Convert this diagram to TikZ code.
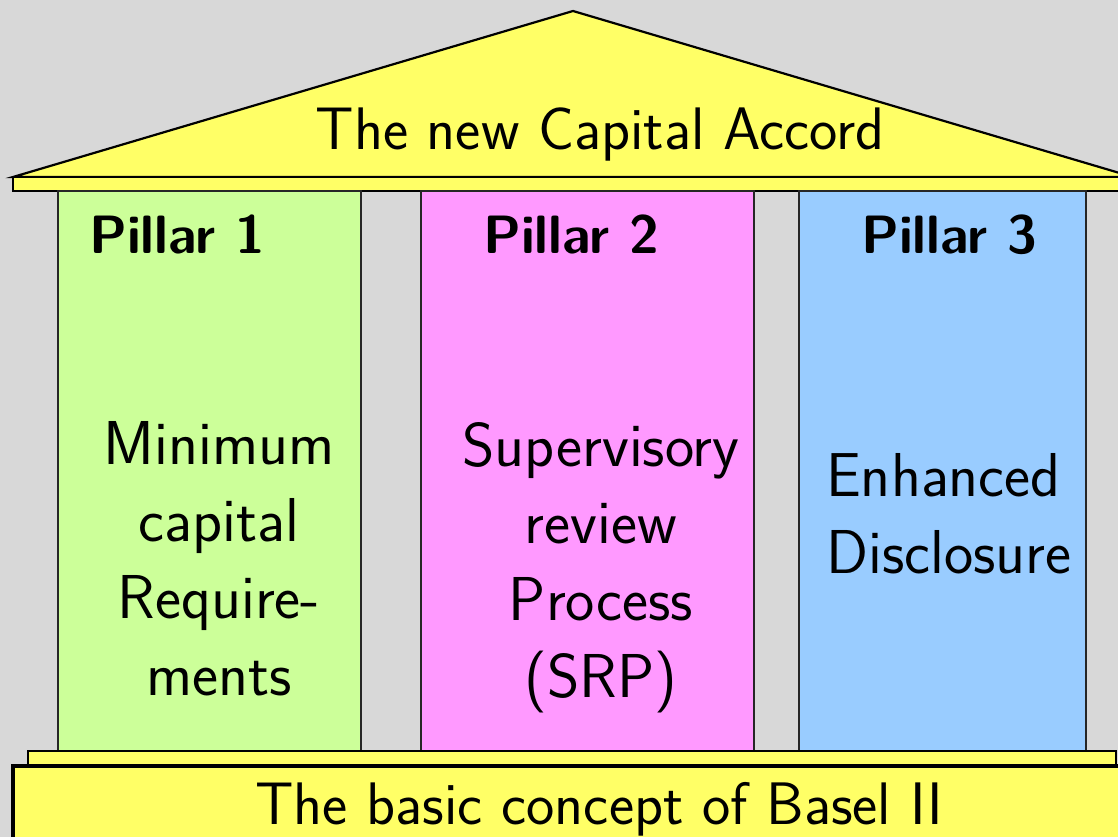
\documentclass[tikz,border=0pt]{standalone}
\usepackage{tikz}
\begin{document}
\begin{tikzpicture}[x=1pt,y=-1pt,
  part/.style={draw=black,line width=2.2pt,fill=accordyellow},
  pillar/.style={draw=black!85,line width=1.6pt},
  bigtext/.style={font=\sffamily\fontsize{60}{77}\selectfont,inner sep=0pt},
  bodytext/.style={font=\sffamily\fontsize{62}{77}\selectfont,inner sep=0pt},
  headtext/.style={font=\sffamily\bfseries\fontsize{54}{60}\selectfont,inner sep=0pt}]
\definecolor{accordyellow}{HTML}{FFFF66}
\definecolor{bggray}{HTML}{D8D8D8}
\definecolor{pillargreen}{HTML}{CCFF99}
\definecolor{pillarpink}{HTML}{FF99FF}
\definecolor{pillarblue}{HTML}{99CCFF}
\useasboundingbox (0,0) rectangle (1118,837);
\clip (0,0) rectangle (1118,837);
\fill[bggray] (0,0) rectangle (1118,837);
% roof and architrave
\draw[part,line join=miter] (13,177) -- (573,11) -- (1133,177) -- cycle;
\draw[part] (13,177) rectangle (1140,191);
% the three pillars
\draw[pillar,fill=pillargreen] (58,191) rectangle (361,751);
\draw[pillar,fill=pillarpink] (421,191) rectangle (754,751);
\draw[pillar,fill=pillarblue] (799,191) rectangle (1086,751);
% stylobate
\draw[part,line width=2.8pt] (28,751) rectangle (1116,766);
\draw[part,line width=3.2pt] (13,766) rectangle (1140,860);
% labels (multi-line nodes are anchored at the baseline of their last line)
\node[bigtext,anchor=base] (title) at (600,150) {The new Capital Accord};
\node[headtext,anchor=base] (p1) at (177,253) {Pillar 1};
\node[headtext,anchor=base] (p2) at (571,253) {Pillar 2};
\node[headtext,anchor=base] (p3) at (949,253) {Pillar 3};
\node[bodytext,anchor=base,align=center] (t1) at (219,695) {Minimum\\capital\\Require-\\ments};
\node[bodytext,anchor=base,align=center] (t2) at (601,697) {Supervisory\\review\\Process\\(SRP)};
\node[bodytext,anchor=base west,align=left] (t3) at (826,573) {Enhanced\\Disclosure};
\node[bigtext,anchor=base] (base) at (599,824) {The basic concept of Basel II};
\end{tikzpicture}
\end{document}
